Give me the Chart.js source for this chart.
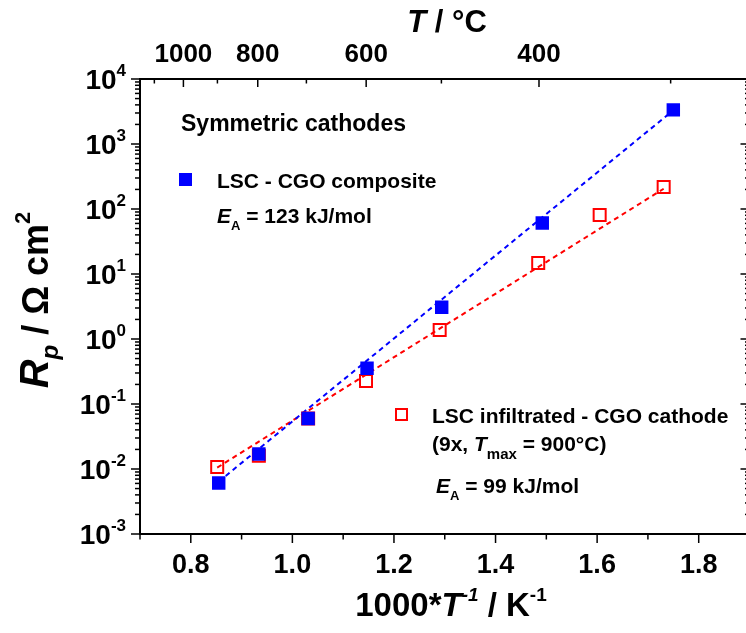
<!DOCTYPE html>
<html>
<head>
<meta charset="utf-8">
<script src="https://cdn.jsdelivr.net/npm/chart.js@4.4.1/dist/chart.umd.min.js"></script>
<style>
  html, body { margin: 0; padding: 0; background: #fff; overflow: hidden; }
  #wrap { width: 760px; height: 633px; position: relative; }
</style>
</head>
<body>
<div id="wrap"><canvas id="arr"></canvas></div>
<script>
// LSC - CGO composite cathode: 1000/T (K^-1) and Rp (Ohm cm2)
const compX = [0.855, 0.934, 1.031, 1.147, 1.294, 1.492, 1.750];
const compRp = [0.0061, 0.017, 0.060, 0.355, 3.08, 61, 3350];

// LSC infiltrated - CGO cathode
const infX = [0.852, 0.934, 1.031, 1.145, 1.290, 1.484, 1.605, 1.731];
const infRp = [0.0107, 0.016, 0.060, 0.226, 1.38, 14.8, 81, 218];

// Arrhenius fit lines (end points)
const compFitX = [0.855, 1.750];
const compFitRp = [0.0064, 3300];
const infFitX = [0.852, 1.731];
const infFitRp = [0.0105, 205];

// axis ticks
const xMajor = [0.8, 1.0, 1.2, 1.4, 1.6, 1.8];
const xMinor = [0.7, 0.9, 1.1, 1.3, 1.5, 1.7, 1.9];
const yExp = [-3, -2, -1, 0, 1, 2, 3, 4];
const tMajor = [1000, 800, 600, 400];
const tMinor = [1100, 900, 700, 500, 300];

const BLUE = "rgb(0,0,255)";
const RED = "rgb(255,0,0)";
const FONT = "'Liberation Sans', Arial, Helvetica, sans-serif";

const pts = (xs, ys) => xs.map((x, i) => ({ x: x, y: ys[i] }));

function font(size, italic) {
    return (italic ? "italic " : "") + "bold " + size + "px " + FONT;
}

// draw a run of text pieces (sub/superscripts, italics) from one start point
function richText(ctx, segs, x, y, align) {
    let w = 0;
    segs.forEach(s => { ctx.font = font(s.size, s.italic); w += ctx.measureText(s.t).width; });
    let cx = align === "center" ? x - w / 2 : align === "right" ? x - w : x;
    ctx.textAlign = "left";
    ctx.textBaseline = "alphabetic";
    segs.forEach(s => {
        ctx.font = font(s.size, s.italic);
        ctx.fillText(s.t, cx, y + (s.dy || 0));
        cx += ctx.measureText(s.t).width;
    });
}

const tempToX = t => 1000 / (t + 273.15);

const axesPlugin = {
    id: "axesPlugin",
    afterDraw(chart) {
        const ctx = chart.ctx;
        const a = chart.chartArea;
        const xs = chart.scales.x;
        const ys = chart.scales.y;
        ctx.save();
        ctx.fillStyle = "#000";
        ctx.strokeStyle = "#000";

        // frame
        ctx.lineWidth = 2;
        ctx.strokeRect(a.left, a.top, a.right - a.left, a.bottom - a.top);

        ctx.lineWidth = 1.5;
        const tick = (x1, y1, x2, y2) => { ctx.beginPath(); ctx.moveTo(x1, y1); ctx.lineTo(x2, y2); ctx.stroke(); };

        // bottom axis
        xMajor.forEach(v => {
            const px = xs.getPixelForValue(v);
            tick(px, a.bottom, px, a.bottom + 9);
            richText(ctx, [{ t: v.toFixed(1), size: 27 }], px, 573, "center");
        });
        xMinor.forEach(v => {
            const px = xs.getPixelForValue(v);
            tick(px, a.bottom, px, a.bottom + 5.5);
        });

        // top axis in degrees C
        tMajor.forEach(t => {
            const px = xs.getPixelForValue(tempToX(t));
            tick(px, a.top, px, a.top + 8);
            richText(ctx, [{ t: String(t), size: 26 }], px, 62, "center");
        });
        tMinor.forEach(t => {
            const px = xs.getPixelForValue(tempToX(t));
            tick(px, a.top, px, a.top + 4.5);
        });

        // left and right log axes
        yExp.forEach(e => {
            const py = ys.getPixelForValue(Math.pow(10, e));
            tick(a.left - 9, py, a.left, py);
            tick(a.right, py, a.right - 9, py);
            richText(ctx, [
                { t: "10", size: 28 },
                { t: String(e), size: 17, dy: -13 }
            ], 126, py + 10, "right");
            if (e < 4) {
                for (let m = 2; m <= 9; m++) {
                    const pm = ys.getPixelForValue(m * Math.pow(10, e));
                    tick(a.left - 5, pm, a.left, pm);
                    tick(a.right, pm, a.right - 4.5, pm);
                }
            }
        });

        // axis titles
        richText(ctx, [
            { t: "T", size: 31, italic: true },
            { t: " / °C", size: 31 }
        ], 447, 32, "center");

        richText(ctx, [
            { t: "1000*", size: 33 },
            { t: "T", size: 33, italic: true },
            { t: "-1", size: 19, italic: true, dy: -15 },
            { t: " / K", size: 33 },
            { t: "-1", size: 19, dy: -15 }
        ], 451, 616, "center");

        ctx.save();
        ctx.translate(48, 300);
        ctx.rotate(-Math.PI / 2);
        richText(ctx, [
            { t: "R", size: 40, italic: true },
            { t: "p", size: 24, italic: true, dy: 10 },
            { t: " / Ω cm", size: 36 },
            { t: "2", size: 22, dy: -18 }
        ], 0, 0, "center");
        ctx.restore();

        // legend notes
        const ds = chart.data.datasets;
        ctx.fillStyle = "#000";
        richText(ctx, [{ t: "Symmetric cathodes", size: 23 }], 181, 131, "left");

        ctx.fillStyle = ds[0].backgroundColor;
        ctx.fillRect(179, 173, 13, 13);
        ctx.fillStyle = "#000";
        richText(ctx, [{ t: "LSC - CGO composite", size: 21 }], 217, 188, "left");
        richText(ctx, [
            { t: "E", size: 21, italic: true },
            { t: "A", size: 13, dy: 7 },
            { t: " = 123 kJ/mol", size: 21 }
        ], 217, 223, "left");

        ctx.strokeStyle = ds[1].borderColor;
        ctx.lineWidth = 2;
        ctx.strokeRect(396, 409, 11, 11);
        richText(ctx, [{ t: "LSC infiltrated - CGO cathode", size: 21 }], 432, 423, "left");
        richText(ctx, [
            { t: "(9x, ", size: 21 },
            { t: "T", size: 21, italic: true },
            { t: "max", size: 15, dy: 8 },
            { t: " = 900°C)", size: 21 }
        ], 432, 451, "left");
        richText(ctx, [
            { t: "E", size: 21, italic: true },
            { t: "A", size: 13, dy: 7 },
            { t: " = 99 kJ/mol", size: 21 }
        ], 436, 493, "left");

        ctx.restore();
    }
};

new Chart(document.getElementById("arr"), {
    type: "scatter",
    data: {
        datasets: [
            {
                label: "LSC - CGO composite",
                data: pts(compX, compRp),
                pointStyle: "rect",
                pointRadius: 9.5,
                backgroundColor: BLUE,
                borderColor: BLUE,
                borderWidth: 0,
                order: 1
            },
            {
                label: "LSC infiltrated - CGO cathode",
                data: pts(infX, infRp),
                pointStyle: "rect",
                pointRadius: 8.5,
                backgroundColor: "rgba(255,255,255,0)",
                borderColor: RED,
                borderWidth: 2,
                order: 2
            },
            {
                label: "fit composite",
                data: pts(compFitX, compFitRp),
                showLine: true,
                pointRadius: 0,
                borderColor: BLUE,
                borderWidth: 2,
                borderDash: [5, 4],
                order: 3
            },
            {
                label: "fit infiltrated",
                data: pts(infFitX, infFitRp),
                showLine: true,
                pointRadius: 0,
                borderColor: RED,
                borderWidth: 2,
                borderDash: [5, 4],
                order: 4
            }
        ]
    },
    options: {
        responsive: true,
        maintainAspectRatio: false,
        animation: false,
        layout: { padding: { left: 140, top: 79, right: 6, bottom: 99 } },
        plugins: { legend: { display: false }, tooltip: { enabled: false } },
        scales: {
            x: { type: "linear", min: 0.7, max: 1.9, display: false },
            y: { type: "logarithmic", min: 1e-3, max: 1e4, display: false }
        }
    },
    plugins: [axesPlugin]
});
</script>
</body>
</html>
